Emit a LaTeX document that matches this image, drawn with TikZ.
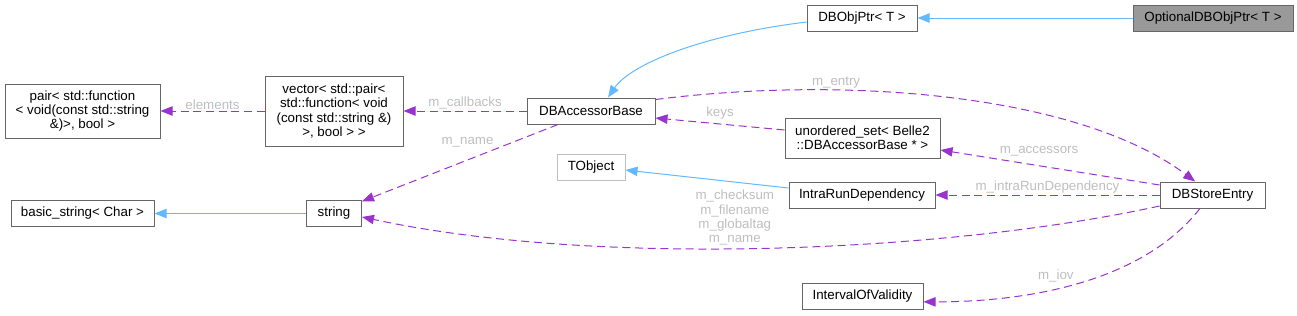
\documentclass[tikz,border=0pt]{standalone}
\usepackage{fontspec}
\setmainfont{Liberation Sans}
\usepackage{xcolor}
\usepackage{tikz}
\usetikzlibrary{arrows.meta}

\definecolor{inhblue}{HTML}{63B8FF}
\definecolor{usepurple}{HTML}{9A32CD}
\definecolor{boxgray}{HTML}{666666}
\definecolor{extgray}{HTML}{BFBFBF}
\definecolor{lblgray}{HTML}{BEBEBE}
\definecolor{rootfill}{HTML}{999999}

\begin{document}
\begin{tikzpicture}[x=0.75pt,y=-0.75pt,
  cls/.style={draw=boxgray, fill=white, line width=0.75pt, inner sep=0pt, align=center,
    font=\fontsize{10}{10.7}\selectfont, minimum height=19.5pt},
  inh/.style={draw=inhblue, line width=0.75pt, -{Triangle[length=9pt,width=7pt]}},
  use/.style={draw=usepurple, line width=0.75pt, dash pattern=on 6pt off 3.5pt,
    -{Triangle[length=9pt,width=7pt]}},
  lbl/.style={text=lblgray, font=\fontsize{10}{10.7}\selectfont, inner sep=1pt, align=center}]

\useasboundingbox (0,0) rectangle (1297,315);

\node[cls, fill=rootfill, minimum width=120pt](opt) at (1213,18) {OptionalDBObjPtr< T >};
\node[cls, minimum width=82.5pt](dbobj) at (862,18) {DBObjPtr< T >};
\node[cls, minimum width=96pt](acc) at (591,111) {DBAccessorBase};
\node[cls, minimum width=103.5pt, minimum height=52.5pt](vec) at (334,111)
  {vector< std::pair<\\std::function< void\\(const std::string \&)\\>, bool > >};
\node[cls, minimum width=116.25pt, minimum height=40.5pt](pair) at (82.5,111)
  {pair< std::function\\< void(const std::string\\\&)>, bool >};
\node[cls, minimum width=116.25pt, minimum height=30pt](uset) at (862.5,138)
  {unordered\_set< Belle2\\::DBAccessorBase * >};
\node[cls, draw=extgray, minimum width=51pt](tobj) at (591,167.5) {TObject};
\node[cls, minimum width=109.5pt](intra) at (862,195) {IntraRunDependency};
\node[cls, minimum width=78.75pt](store) at (1212.5,195) {DBStoreEntry};
\node[cls, minimum width=107.25pt](bstr) at (82.5,213.5) {basic\_string< Char >};
\node[cls, minimum width=41.25pt](str) at (334,213.5) {string};
\node[cls, minimum width=90.75pt](iov) at (862.5,296.5) {IntervalOfValidity};

\draw[inh] (opt) -- (dbobj);
\draw[inh] ([yshift=-3pt]dbobj.west) .. controls (700,35) and (630,65) .. ([xshift=12.75pt]acc.north);
\draw[inh] ([yshift=5.25pt]intra.west) -- ([yshift=-1.9pt]tobj.east);
\draw[inh] (str) -- (bstr);

\draw[use] (acc) -- node[lbl, above] {m\_callbacks} (vec);
\draw[use] (vec) -- node[lbl, above] {elements} (pair);
\draw[use] ([xshift=-24.75pt]acc.south) -- node[lbl, pos=0.32, above left] {m\_name} ([yshift=-1pt]str.north east);
\draw[use] ([yshift=6pt]uset.west) -- node[lbl, above=2pt] {keys} ([yshift=-5.25pt]acc.east);
\draw[use] ([yshift=7.5pt]store.west) -- node[lbl, pos=0.55, above=6pt] {m\_accessors} ([yshift=-9pt]uset.east);
\draw[use] ([yshift=-1.5pt]acc.north east) .. controls (850,75) and (1080,95) .. node[lbl, pos=0.3, above] {m\_entry} ([xshift=-13pt]store.north);
\draw[use] (store) -- node[lbl, above=0pt] {m\_intraRunDependency} (intra);
\draw[use] ([yshift=-8.25pt]store.west) .. controls (950,252) and (600,268) .. node[lbl, pos=0.5425, above=1pt] {m\_checksum\\m\_filename\\m\_globaltag\\m\_name} ([yshift=-2.6pt]str.east);
\draw[use] ([xshift=-9.4pt]store.south) .. controls (1140,285) and (1020,302) .. node[lbl, pos=0.5, above left] {m\_iov} ([yshift=-4pt]iov.east);

\end{tikzpicture}
\end{document}
